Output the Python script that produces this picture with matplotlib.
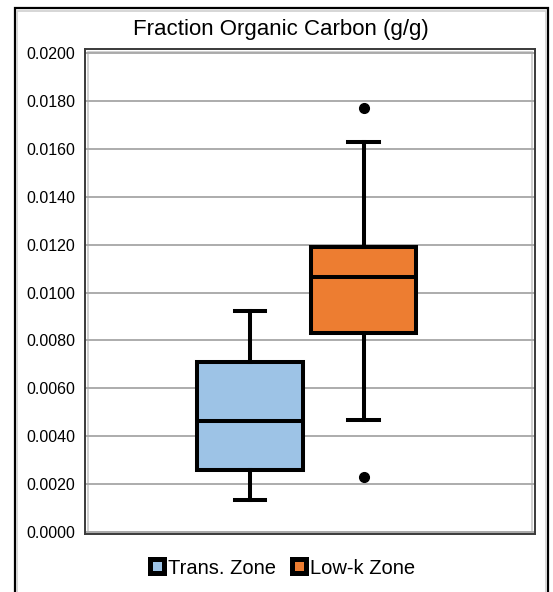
import matplotlib.pyplot as plt
from matplotlib.patches import Rectangle
from matplotlib.lines import Line2D

plt.rcParams['font.family'] = ['Liberation Sans', 'DejaVu Sans']

# Box plot summary values (g/g)
zones = ["Trans. Zone", "Low-k Zone"]
whisker_low = [0.00134, 0.00468]
q1 = [0.00259, 0.00831]
median = [0.00463, 0.01065]
q3 = [0.00710, 0.01190]
whisker_high = [0.00923, 0.01628]
outliers = [[], [0.00230, 0.01770]]
colors = ["#9DC3E6", "#ED7D31"]

yticks = [0.0000, 0.0020, 0.0040, 0.0060, 0.0080, 0.0100,
          0.0120, 0.0140, 0.0160, 0.0180, 0.0200]

stats = []
for i in range(len(zones)):
    stats.append({
        "label": zones[i],
        "whislo": whisker_low[i],
        "q1": q1[i],
        "med": median[i],
        "q3": q3[i],
        "whishi": whisker_high[i],
        "fliers": outliers[i],
    })

fig = plt.figure(figsize=(5.53, 5.92), dpi=100)
ax = fig.add_axes([85 / 553, 1 - 534 / 592, 450 / 553, 485 / 592])

bp = ax.bxp(stats, positions=[1, 2], widths=0.93, patch_artist=True,
            capwidths=0.27,
            boxprops=dict(linewidth=2.9, edgecolor="black"),
            whiskerprops=dict(linewidth=2.9, color="black"),
            capprops=dict(linewidth=2.9, color="black"),
            medianprops=dict(linewidth=2.9, color="black"),
            flierprops=dict(marker="o", markerfacecolor="black",
                            markeredgecolor="black", markersize=7))
for patch, c in zip(bp["boxes"], colors):
    patch.set_facecolor(c)

ax.set_xlim(-0.454, 3.511)
ax.set_ylim(-0.00008, 0.02017)
ax.set_yticks(yticks)
ax.set_yticklabels([f"{v:.4f}" for v in yticks])
ax.set_xticks([])
ax.tick_params(axis="y", length=0, pad=7, labelsize=11.5)
ax.grid(axis="y", color="#a6a6a6", linewidth=1.3)
ax.set_axisbelow(True)
for s in ax.spines.values():
    s.set_color("#3a3a3a")
    s.set_linewidth(1.4)

# light inner edge of the plot box
ax.add_patch(Rectangle((0.006, 0.004), 0.988, 0.99, transform=ax.transAxes,
                       fill=False, edgecolor="#c8c8c8", linewidth=1.2,
                       zorder=0))

fig.text(281 / 553, 1 - 30 / 592, "Fraction Organic Carbon (g/g)",
         ha="center", va="center", fontsize=16)

handles = [Line2D([], [], linestyle="none", marker="s", markersize=10.1,
                  markerfacecolor=c, markeredgecolor="black",
                  markeredgewidth=3.6) for c in colors]
fig.legend(handles, zones, loc="center", bbox_to_anchor=(282.5 / 553, 1 - 568 / 592),
           ncol=2, frameon=False, fontsize=14.5, handlelength=0.7,
           handletextpad=0.2, columnspacing=0.75)

# outer chart frame
fig.patches.append(Rectangle((14.7 / 553, -0.05), (548 - 14.7) / 553, 1.05 - 8 / 592,
                             transform=fig.transFigure, fill=False,
                             edgecolor="black", linewidth=1.6))
fig.patches.append(Rectangle((17 / 553, -0.05), (545.5 - 17) / 553, 1.05 - 10.5 / 592,
                             transform=fig.transFigure, fill=False,
                             edgecolor="#d0d0d0", linewidth=1.2))

fig.savefig("out.png", dpi=100)
